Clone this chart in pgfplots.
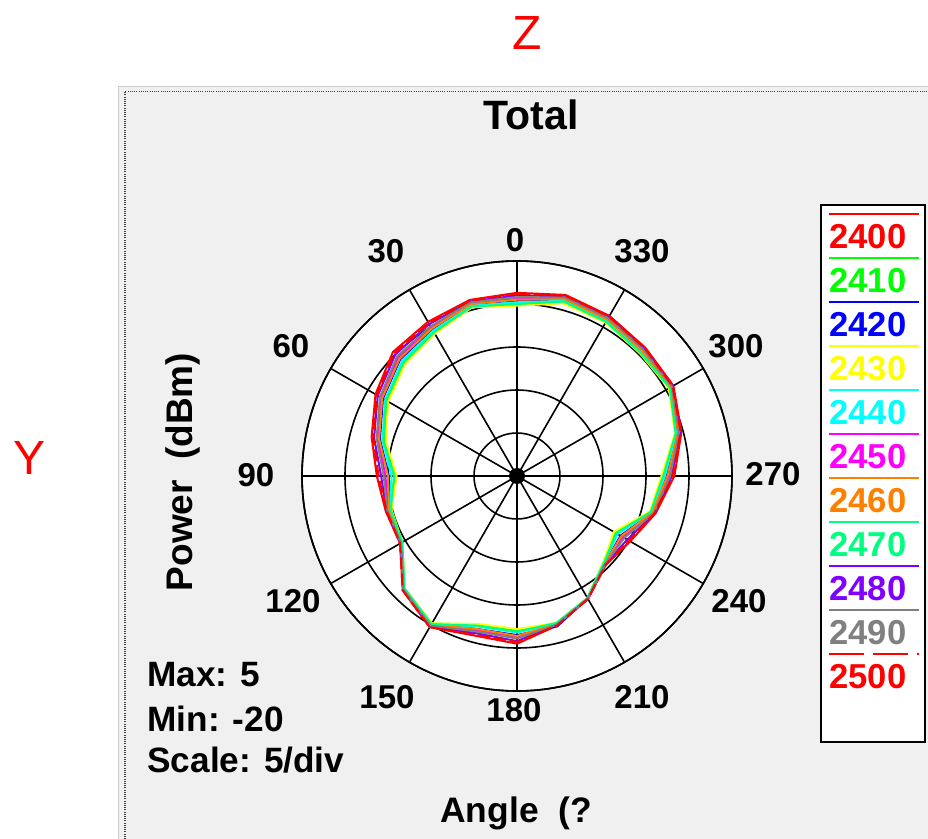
\documentclass[border=0pt]{standalone}
\usepackage{pgfplots}
\pgfplotsset{compat=1.18}
\usepackage{pgfplotstable}
\usepgfplotslibrary{polar}
\usepackage{fontspec}
\setmainfont{Liberation Sans}

\definecolor{panelgray}{RGB}{240,240,240}
\definecolor{c2400}{RGB}{255,0,0}
\definecolor{c2410}{RGB}{0,255,0}
\definecolor{c2420}{RGB}{0,0,255}
\definecolor{c2430}{RGB}{255,255,0}
\definecolor{c2440}{RGB}{0,255,255}
\definecolor{c2450}{RGB}{255,0,255}
\definecolor{c2460}{RGB}{255,128,0}
\definecolor{c2470}{RGB}{0,255,128}
\definecolor{c2480}{RGB}{128,0,255}
\definecolor{c2490}{RGB}{128,128,128}

% angle (deg, counter-clockwise from top) and power (dBm) per frequency
\pgfplotstableread{
a   s2400 s2410 s2420 s2430 s2440 s2450 s2460 s2470 s2480 s2490 s2500
0    1.3   0.0   0.4  -0.2   0.2   0.6   0.5   0.0   1.0   0.8   1.2
15   1.2   0.4   0.7   0.3   0.5   0.8   0.7   0.4   1.0   0.9   1.1
30   0.7  -0.7  -0.3  -0.9  -0.5   0.0  -0.2  -0.7   0.4   0.1   0.5
45   0.4  -1.4  -0.8  -1.6  -1.1  -0.5  -0.7  -1.3   0.0  -0.3   0.2
60  -1.0  -2.5  -2.0  -2.7  -2.3  -1.8  -1.9  -2.4  -1.3  -1.6  -1.2
75  -2.5  -4.0  -3.5  -4.2  -3.8  -3.3  -3.4  -3.9  -2.8  -3.1  -2.7
90  -3.7  -5.8  -5.1  -6.0  -5.4  -4.7  -5.0  -5.7  -4.2  -4.5  -3.9
105 -4.2  -4.8  -4.6  -4.9  -4.7  -4.5  -4.6  -4.8  -4.3  -4.4  -4.3
120 -4.3  -4.6  -4.5  -4.6  -4.5  -4.4  -4.5  -4.6  -4.4  -4.4  -4.3
135 -1.2  -1.5  -1.4  -1.5  -1.4  -1.3  -1.4  -1.5  -1.3  -1.3  -1.2
150  0.3  -0.2   0.0  -0.2  -0.1   0.1   0.0  -0.1   0.2   0.1   0.3
165 -0.8  -2.1  -1.6  -2.2  -1.9  -1.4  -1.6  -2.0  -1.1  -1.3  -0.9
180 -0.5  -2.0  -1.5  -2.2  -1.8  -1.3  -1.4  -1.9  -0.8  -1.1  -0.7
195 -2.0  -2.3  -1.9  -2.3  -2.2  -2.1  -2.2  -2.3  -2.1  -2.1  -2.0
210 -3.5  -3.6  -3.6  -3.6  -3.6  -3.5  -3.6  -3.6  -3.5  -3.5  -3.5
225 -5.4  -5.8  -5.6  -5.8  -5.7  -5.6  -5.6  -5.7  -5.5  -5.5  -5.4
240 -4.8  -6.8  -6.1  -7.0  -6.5  -5.8  -6.0  -6.7  -5.2  -5.6  -5.0
255 -3.3  -3.9  -3.7  -4.0  -3.8  -3.6  -3.7  -3.9  -3.4  -3.5  -3.4
270 -1.7  -3.1  -2.6  -3.2  -2.8  -2.4  -2.5  -3.0  -2.0  -2.2  -1.9
285 -0.2  -0.9  -0.7  -1.0  -0.8  -0.6  -0.6  -0.9  -0.4  -0.5  -0.3
300  1.0   0.5   0.6   0.4   0.6   0.7   0.7   0.5   0.9   0.8   0.9
315  1.1   0.3   0.6   0.2   0.4   0.7   0.6   0.3   0.9   0.8   1.0
330  1.5   0.7   1.0   0.6   0.8   1.1   1.0   0.7   1.3   1.2   1.4
345  1.8   0.9   1.2   0.8   1.1   1.4   1.3   1.0   1.6   1.5   1.7
360  1.3   0.0   0.4  -0.2   0.2   0.6   0.5   0.0   1.0   0.8   1.2
}\dbdata

\begin{document}
\begin{tikzpicture}
\path[use as bounding box] (0,0) rectangle (464pt,-419.5pt);
\fill[white] (0,0) rectangle (464pt,-419.5pt);

\begin{scope}[x=0.5pt,y=-0.5pt]
  \fill[panelgray] (118,87) rectangle (928,839);
  \draw[gray!40, line width=0.5pt] (118,839) -- (118,87) -- (928,87);
  \draw[black!75, line width=0.9pt, dash pattern=on 0.5pt off 0.6pt] (125,839) -- (125,91.5) -- (928,91.5);
\end{scope}

\begin{polaraxis}[
  at={(258.5pt,-238pt)}, anchor=center,
  scale only axis, width=215pt, height=215pt,
  xmin=0, xmax=360, ymin=0, ymax=25,
  xtick={0,30,...,330}, ytick={5,10,15,20,25},
  xticklabels={}, yticklabels={},
  major tick length=0pt,
  grid=major,
  major grid style={black, line width=0.8pt},
  axis line style={black, line width=0.8pt},
  axis background/.style={fill=white},
  clip=false,
]
\addplot[c2400, line width=1pt] table[x expr=\thisrow{a}+90, y expr=\thisrow{s2400}+20] {\dbdata};
\addplot[c2410, line width=1pt] table[x expr=\thisrow{a}+90, y expr=\thisrow{s2410}+20] {\dbdata};
\addplot[c2420, line width=1pt] table[x expr=\thisrow{a}+90, y expr=\thisrow{s2420}+20] {\dbdata};
\addplot[c2430, line width=1pt] table[x expr=\thisrow{a}+90, y expr=\thisrow{s2430}+20] {\dbdata};
\addplot[c2440, line width=1pt] table[x expr=\thisrow{a}+90, y expr=\thisrow{s2440}+20] {\dbdata};
\addplot[c2450, line width=1pt] table[x expr=\thisrow{a}+90, y expr=\thisrow{s2450}+20] {\dbdata};
\addplot[c2460, line width=1pt] table[x expr=\thisrow{a}+90, y expr=\thisrow{s2460}+20] {\dbdata};
\addplot[c2470, line width=1pt] table[x expr=\thisrow{a}+90, y expr=\thisrow{s2470}+20] {\dbdata};
\addplot[c2480, line width=1pt] table[x expr=\thisrow{a}+90, y expr=\thisrow{s2480}+20] {\dbdata};
\addplot[c2490, line width=1pt] table[x expr=\thisrow{a}+90, y expr=\thisrow{s2490}+20] {\dbdata};
\addplot[c2400, line width=1pt, dash pattern=on 6pt off 2pt] table[x expr=\thisrow{a}+90, y expr=\thisrow{s2500}+20] {\dbdata};
\end{polaraxis}

% hub of the polar grid
\fill[black] (258.5pt,-238pt) circle (4pt);

\begin{scope}[x=0.5pt,y=-0.5pt]
  % outer labels
  \node[text=red, font=\fontsize{24}{28}\selectfont] at (527,33) {Z};
  \node[text=red, font=\fontsize{24}{28}\selectfont] at (30,458) {Y};
  \node[anchor=base, inner sep=0pt, font=\fontsize{20.5}{24}\selectfont\bfseries] at (531,130) {Total};
  \node[anchor=base, inner sep=0pt, rotate=90, font=\fontsize{18.5}{22}\selectfont\bfseries] at (192,472) {Power\ \ (dBm)};
  \node[anchor=base west, inner sep=0pt, font=\fontsize{17.7}{21}\selectfont\bfseries] at (440,823) {Angle\ \ (?};
  \node[anchor=base west, inner sep=0pt, font=\fontsize{17.6}{21}\selectfont\bfseries] at (147,687) {Max: 5};
  \node[anchor=base west, inner sep=0pt, font=\fontsize{17.6}{21}\selectfont\bfseries] at (147,732) {Min: -20};
  \node[anchor=base west, inner sep=0pt, font=\fontsize{17.6}{21}\selectfont\bfseries] at (147,773) {Scale: 5/div};
  % angle labels
  \foreach \lab/\x/\y in {0/515/240, 30/386/251, 60/291/346, 90/256/475, 120/293/601, 150/387/697, 180/514/710, 210/642/697, 240/739/601, 270/773/474, 300/736/346, 330/642/251}
    \node[inner sep=0pt, font=\fontsize{16.5}{19}\selectfont\bfseries] at (\x,\y) {\lab};
  % legend
  \fill[white] (821,205) rectangle (925,742);
  \draw[black, line width=0.9pt] (821,205) rectangle (925,742);
  \foreach \i/\lab/\col in {0/2400/c2400, 1/2410/c2410, 2/2420/c2420, 3/2430/c2430, 4/2440/c2440, 5/2450/c2450, 6/2460/c2460, 7/2470/c2470, 8/2480/c2480, 9/2490/c2490} {
    \draw[\col, line width=1pt] (829,{214+44*\i}) -- (919,{214+44*\i});
    \node[anchor=base west, inner sep=0pt, text=\col, font=\fontsize{17.3}{20}\selectfont\bfseries] at (829,{249+44*\i}) {\lab};
  }
  \draw[c2400, line width=1pt, dash pattern=on 17.5pt off 4.5pt] (829,654) -- (919,654);
  \node[anchor=base west, inner sep=0pt, text=c2400, font=\fontsize{17.3}{20}\selectfont\bfseries] at (829,689) {2500};
\end{scope}
\end{tikzpicture}
\end{document}
